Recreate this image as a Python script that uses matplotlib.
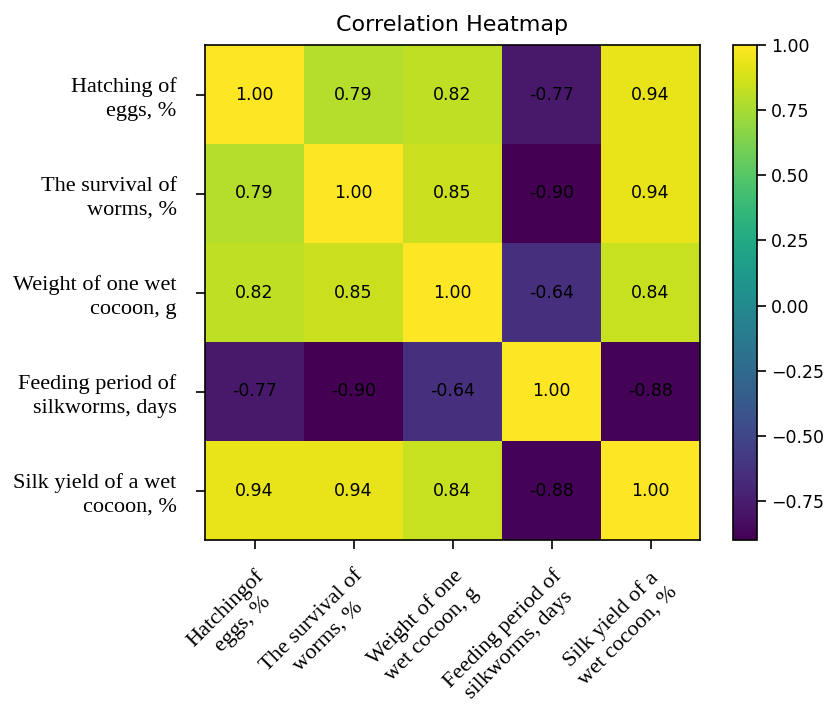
import matplotlib
matplotlib.use("Agg")
import matplotlib.pyplot as plt
import numpy as np

labels = [
    "Hatching of\neggs, %",
    "The survival of\nworms, %",
    "Weight of one wet\ncocoon, g",
    "Feeding period of\nsilkworms, days",
    "Silk yield of a wet\ncocoon, %",
]
xlabels = [
    "Hatchingof\neggs, %",
    "The survival of\nworms, %",
    "Weight of one\nwet cocoon, g",
    "Feeding period of\nsilkworms, days",
    "Silk yield of a\nwet cocoon, %",
]
corr = np.array([
    [1.00, 0.79, 0.82, -0.77, 0.94],
    [0.79, 1.00, 0.85, -0.90, 0.94],
    [0.82, 0.85, 1.00, -0.64, 0.84],
    [-0.77, -0.90, -0.64, 1.00, -0.88],
    [0.94, 0.94, 0.84, -0.88, 1.00],
])
cbar_ticks = [-0.75, -0.50, -0.25, 0.00, 0.25, 0.50, 0.75, 1.00]

fig = plt.figure(figsize=(8.25, 7.11), dpi=100)
ax = fig.add_axes([205/825, 1-540/711, 495/825, 495/711])
cax = fig.add_axes([733/825, 1-540/711, 24/825, 495/711])

im = ax.imshow(corr, cmap="viridis", aspect="auto")
n = len(labels)
for i in range(n):
    for j in range(n):
        ax.text(j, i, f"{corr[i, j]:.2f}", ha="center", va="center",
                color="black", fontsize=12.5, family="DejaVu Sans")

ax.set_xticks(range(n))
ax.set_yticks(range(n))
ax.set_xticklabels(xlabels, rotation=45, ha="right", rotation_mode="anchor",
                   multialignment="center", family="Liberation Serif",
                   fontsize=16, linespacing=1.3)
ax.set_yticklabels(labels, family="Liberation Serif", fontsize=16,
                   multialignment="right", linespacing=1.3)
ax.tick_params(axis="both", length=6.5, width=1.2)
ax.tick_params(axis="y", pad=14)
ax.tick_params(axis="x", pad=12)
for s in ax.spines.values():
    s.set_linewidth(1.2)
ax.set_title("Correlation Heatmap", fontsize=16, family="DejaVu Sans", pad=10)

cb = fig.colorbar(im, cax=cax)
cb.set_ticks(cbar_ticks)
cb.ax.set_yticklabels([f"{t:.2f}".replace("-", "\u2212") for t in cbar_ticks])
cb.ax.tick_params(labelsize=12.5, length=6.5, width=1.2)
cb.outline.set_linewidth(1.2)

fig.savefig("out.png", dpi=100)
